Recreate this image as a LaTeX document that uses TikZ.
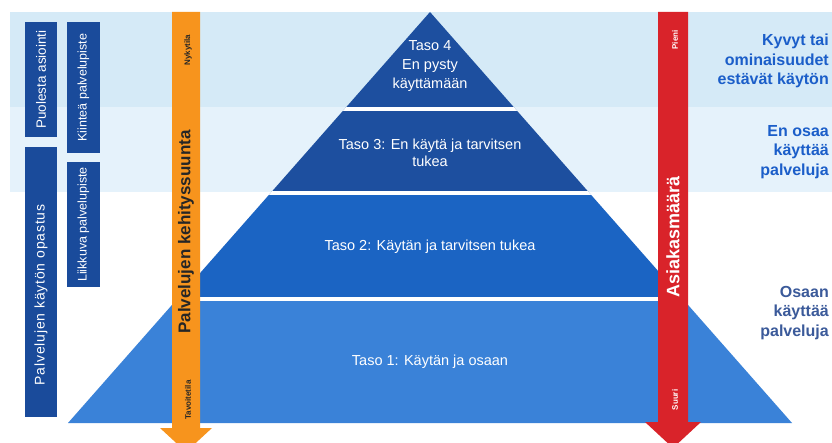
\documentclass[tikz,border=0pt]{standalone}
\usepackage{fontspec}
\setmainfont{Liberation Sans}
\definecolor{bandA}{HTML}{D5EAF7}
\definecolor{bandB}{HTML}{E5F2FB}
\definecolor{lvlDark}{HTML}{1D4F9F}
\definecolor{lvlMid}{HTML}{1B64C3}
\definecolor{lvlLight}{HTML}{3A82D8}
\definecolor{boxBlue}{HTML}{1A4B9B}
\definecolor{arrOrange}{HTML}{F7941D}
\definecolor{arrRed}{HTML}{D9232A}
\definecolor{lblBlue}{HTML}{1B5EC9}
\definecolor{lblGrey}{HTML}{3B5A9A}
\tikzset{
  pyrtext/.style={text=white, align=center, inner sep=0pt, font=\fontsize{14.5}{17}\selectfont},
  sidebox/.style={fill=boxBlue, text=white, rotate=90, inner sep=0pt, align=center},
  rlabel/.style={anchor=east, align=right, inner sep=0pt, font=\fontsize{16}{19.5}\selectfont\bfseries},
  arrtext/.style={rotate=90, inner sep=0pt}
}
\begin{document}
\begin{tikzpicture}[x=1pt,y=-1pt]
\useasboundingbox (0,0) rectangle (832,443);
\fill[white] (0,0) rectangle (832,443);
% background bands
\fill[bandA] (10,12) rectangle (832,107);
\fill[bandB] (10,107) rectangle (832,192);
% pyramid
\begin{scope}
  \clip (430,12) -- (792,423) -- (68,423) -- cycle;
  \fill[lvlDark] (0,0) rectangle (832,193);
  \fill[lvlMid] (0,193) rectangle (832,299);
  \fill[lvlLight] (0,299) rectangle (832,443);
  \draw[white, line width=3.5pt] (0,109) -- (832,109);
  \draw[white, line width=3.5pt] (0,193) -- (832,193);
  \draw[white, line width=3.5pt] (0,299) -- (832,299);
\end{scope}
\node[pyrtext, font=\fontsize{14.5}{19}\selectfont] (t4) at (430,66) {Taso 4\\En pysty\\käyttämään};
\node[pyrtext] (t3) at (430,153) {Taso 3: En käytä ja tarvitsen\\tukea};
\node[pyrtext] (t2) at (430,247) {Taso 2: Käytän ja tarvitsen tukea};
\node[pyrtext] (t1) at (430,362) {Taso 1: Käytän ja osaan};
% left boxes
\node[sidebox, minimum width=115pt, minimum height=32pt, font=\fontsize{13.5}{16}\selectfont] (b1) at (41,79.5) {Puolesta asiointi};
\node[sidebox, minimum width=270pt, minimum height=32pt, font=\fontsize{14}{16}\selectfont\addfontfeature{LetterSpace=6}] (b2) at (41,282) {Palvelujen käytön opastus\hspace*{26pt}};
\node[sidebox, minimum width=131pt, minimum height=33pt, font=\fontsize{12.5}{16}\selectfont] (b3) at (83.5,87.5) {Kiinteä palvelupiste};
\node[sidebox, minimum width=125pt, minimum height=33pt, font=\fontsize{12.5}{16}\selectfont] (b4) at (83.5,224.5) {Liikkuva palvelupiste};
% orange arrow
\fill[arrOrange] (172,12) -- (200,12) -- (200,428) -- (212,428) -- (186,452) -- (160,428) -- (172,428) -- cycle;
\node[arrtext, font=\fontsize{17}{20}\selectfont\bfseries, text=black!85] (oa) at (186,232) {Palvelujen kehityssuunta};
\node[arrtext, font=\fontsize{8}{9}\selectfont\bfseries, text=black!85] (oa1) at (188,50) {Nykytila};
\node[arrtext, font=\fontsize{8}{9}\selectfont\bfseries, text=black!85] (oa2) at (188,400) {Tavoitetila};
% red arrow
\fill[arrRed] (658,12) -- (688,12) -- (688,422) -- (701,422) -- (673,448) -- (645,422) -- (658,422) -- cycle;
\node[arrtext, font=\fontsize{18}{20}\selectfont\bfseries, text=white] (ra) at (673,237) {Asiakasmäärä};
\node[arrtext, font=\fontsize{8}{9}\selectfont\bfseries, text=white] (ra1) at (675,40) {Pieni};
\node[arrtext, font=\fontsize{8}{9}\selectfont\bfseries, text=white] (ra2) at (675,400) {Suuri};
% right labels
\node[rlabel, text=lblBlue] (r1) at (829,61) {Kyvyt tai\\ominaisuudet\\estävät käytön};
\node[rlabel, text=lblBlue] (r2) at (829,152) {En osaa\\käyttää\\palveluja};
\node[rlabel, text=lblGrey] (r3) at (829,313) {Osaan\\käyttää\\palveluja};
\end{tikzpicture}
\end{document}
